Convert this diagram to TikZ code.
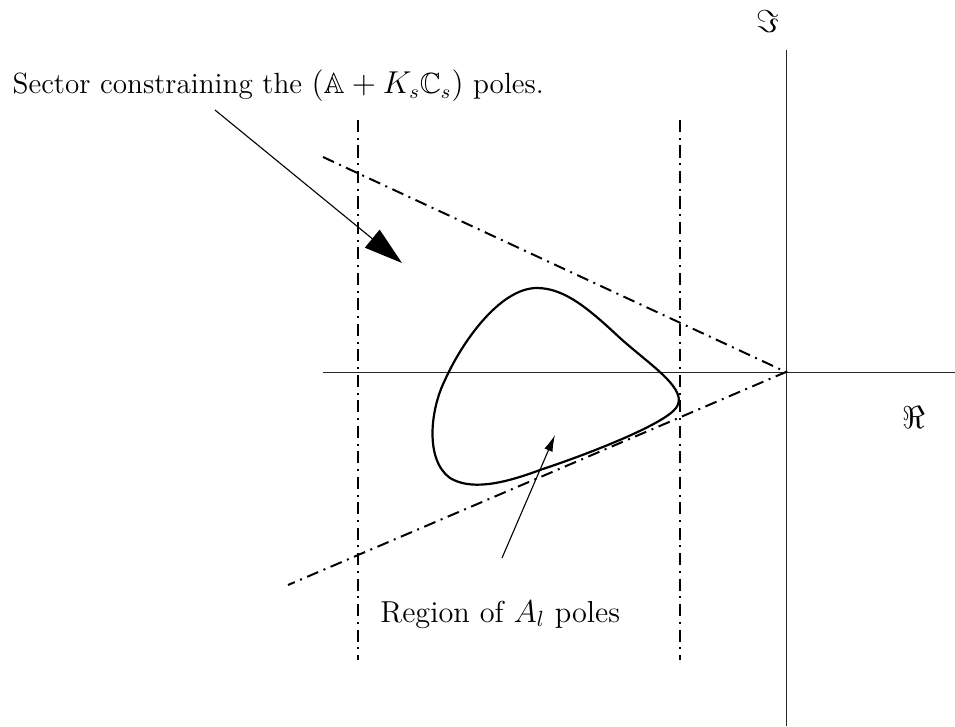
\documentclass[tikz,border=0pt]{standalone}
\usepackage{amsfonts,amsmath,amssymb}
\usetikzlibrary{arrows.meta}
\tikzset{
  axisline/.style={line width=0.4pt, black!85},
  sectorline/.style={line width=0.9pt, dash pattern=on 5.5pt off 2.6pt on 0.9pt off 2.6pt},
  regionline/.style={line width=1pt},
  bigarrow/.style={line width=0.5pt, -{Triangle[length=17.5pt, width=10.5pt]}},
  smallarrow/.style={line width=0.5pt, -{Latex[length=7.5pt, width=4pt]}},
  biglabel/.style={font=\fontsize{13.8}{16}\selectfont, inner sep=0pt}
}

\begin{document}
\begin{tikzpicture}
\useasboundingbox (-12.576,-5.664) rectangle (2.704,5.952);

% Axes
\draw[axisline] (-7.408,0) -- (2.704,0);
\draw[axisline] (0,5.152) -- (0,-5.664);
\node[biglabel] (imlab) at (-0.288,5.6) {$\Im$};
\node[biglabel] (relab) at (2.048,-0.736) {$\Re$};

% Vertical bounds
\draw[sectorline] (-6.848,4.032) -- (-6.848,-4.608);
\draw[sectorline] (-1.696,4.032) -- (-1.696,-4.608);

% Sector lines through the origin
\coordinate (orig) at (0,0);
\coordinate (secup) at (-7.408,3.44);
\coordinate (seclo) at (-7.968,-3.408);
\draw[sectorline] (secup) -- (orig) -- (seclo);

% Region of the poles
\draw[regionline] (-3.984,1.344)
  .. controls (-3.536,1.344) and (-3.136,0.992) .. (-2.656,0.544)
  .. controls (-2.176,0.112) and (-1.536,-0.288) .. (-1.76,-0.576)
  .. controls (-1.936,-0.816) and (-2.976,-1.248) .. (-3.936,-1.568)
  .. controls (-4.576,-1.808) and (-5.056,-1.888) .. (-5.376,-1.696)
  .. controls (-5.776,-1.408) and (-5.696,-0.608) .. (-5.456,-0.128)
  .. controls (-5.184,0.48) and (-4.576,1.344) .. cycle;

% Labels
\node[anchor=base west, inner sep=0pt, font=\fontsize{13.3}{16}\selectfont] (sectlab) at (-12.38,4.45)
  {Sector constraining the $(\mathbb{A}+K_s\mathbb{C}_s)$ poles.};
\node[biglabel, anchor=base west] (reglab) at (-6.496,-4.0) {Region of $A_l$ poles};

\coordinate (secstart) at (-9.136,4.192);
\coordinate (secend) at (-6.144,1.744);
\draw[bigarrow] (secstart) -- (secend);

\coordinate (regstart) at (-4.544,-2.976);
\coordinate (regend) at (-3.696,-1.008);
\draw[smallarrow] (regstart) -- (regend);
\end{tikzpicture}
\end{document}
